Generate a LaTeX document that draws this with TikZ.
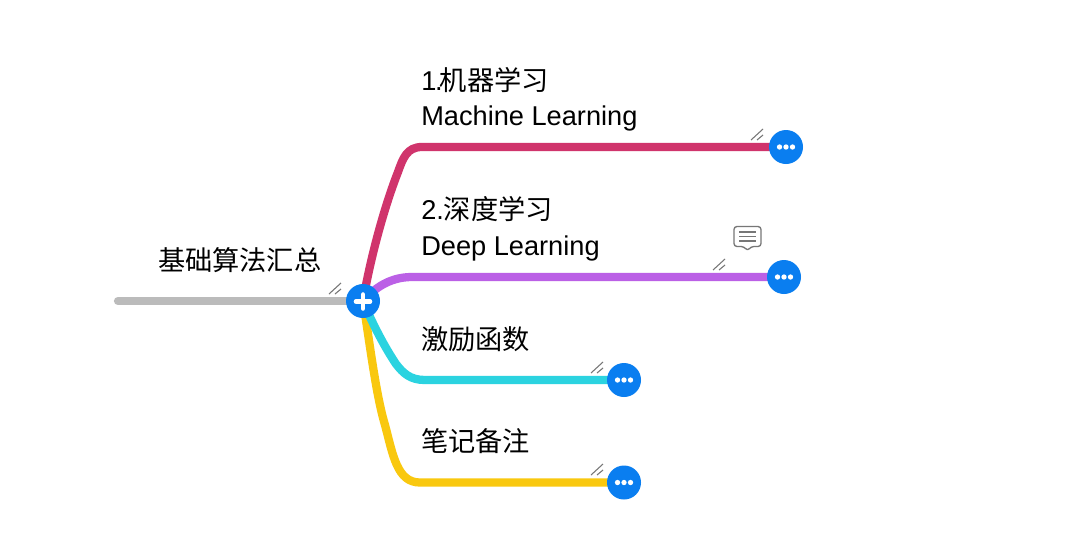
\documentclass[tikz,border=0pt]{standalone}
\usepackage{fontspec}
\setmainfont{Liberation Sans}
\newfontfamily\cjk{Noto Sans CJK SC}
\definecolor{cred}{HTML}{D0346C}
\definecolor{cpurple}{HTML}{BB60E6}
\definecolor{ccyan}{HTML}{2BD3E0}
\definecolor{cyellow}{HTML}{F9C80F}
\definecolor{cgray}{HTML}{BBBBBB}
\definecolor{cblue}{HTML}{0A7EF0}
\definecolor{cmark}{HTML}{777777}
\tikzset{
  px/.style={x=0.75pt,y=-0.75pt},
  branch/.style={line width=6.2pt,line cap=round},
  btn/.style={circle,fill=cblue,minimum size=25.5pt,inner sep=0pt},
  label/.style={anchor=base west,inner sep=0pt,font=\fontsize{20.4pt}{24pt}\selectfont,text=black},
  tick/.style={draw=cmark,line width=0.8pt},
  dotw/.style={fill=white,draw=none}
}
\newcommand{\moredots}[1]{\foreach \d in {-6.5,0,6.5}{\fill[dotw] ([xshift=\d*0.75pt]#1.center) circle (2pt);}}
\newcommand{\slashes}[2]{\draw[tick] (#1-6,#2+5) -- (#1+6,#2-6); \draw[tick] (#1,#2+5) -- (#1+6,#2);}
\begin{document}
\begin{tikzpicture}[px]
\useasboundingbox (0,0) rectangle (1080,547);
\fill[white] (0,0) rectangle (1080,547);
\coordinate (hubc) at (363,301);
\coordinate (left) at (118,301);
\coordinate (e1) at (786,147);
\coordinate (e2) at (784,277);
\coordinate (e3) at (624,380);
\coordinate (e4) at (624,482.5);
% connectors
\draw[branch,cgray] (left) -- (hubc);
\draw[branch,cyellow] (hubc) .. controls (370,345) and (376,395) .. (385,425) .. controls (393,455) and (397,482.5) .. (420,482.5) -- (e4);
\draw[branch,ccyan] (hubc) .. controls (375,330) and (388,352) .. (396,364) .. controls (403,373) and (410,380) .. (425,380) -- (e3);
\draw[branch,cred] (hubc) .. controls (371,255) and (385,205) .. (398,172) .. controls (403,158) and (407,147) .. (422,147) -- (e1);
\draw[branch,cpurple] (hubc) .. controls (373,290) and (388,277) .. (412,277) -- (e2);
% nodes
\node[btn] (hub) at (hubc) {};
\node[btn] (b1) at (e1) {};
\node[btn] (b2) at (e2) {};
\node[btn] (b3) at (e3) {};
\node[btn] (b4) at (e4) {};
\draw[white,line width=3.4pt,line cap=round] (356,301.5) -- (370,301.5);
\draw[white,line width=3.4pt,line cap=round] (363,294.5) -- (363,308.5);
\moredots{b1}\moredots{b2}\moredots{b3}\moredots{b4}
% labels
\node[label] (root) at (157.8,270) {\cjk 基础算法汇总};
\node[label] (t1a) at (421,90) {1\kern-1pt.\kern-2pt{\cjk 机器学习}};
\node[label] (t1b) at (421,125) {Machine Learning};
\node[label] (t2a) at (421,219) {2.{\cjk 深度学习}};
\node[label] (t2b) at (421,255) {Deep Learning};
\node[label] (t3) at (421,349) {\cjk 激励函数};
\node[label] (t4) at (421,451) {\cjk 笔记备注};
% note marks
\slashes{335}{289}
\slashes{757}{135}
\slashes{719}{265}
\slashes{597}{368}
\slashes{597}{470}
% comment icon
\draw[draw=cmark,line width=1pt,line join=round,rounded corners=2.2pt,fill=white]
  (734,226.5) -- (761,226.5) -- (761,246.5) -- (751,246.5) -- (747.5,251) -- (744,246.5) -- (734,246.5) -- cycle;
\foreach \yy in {232,236.5,241}{\draw[cmark,line width=0.9pt] (739,\yy) -- (756,\yy);}
\end{tikzpicture}
\end{document}
